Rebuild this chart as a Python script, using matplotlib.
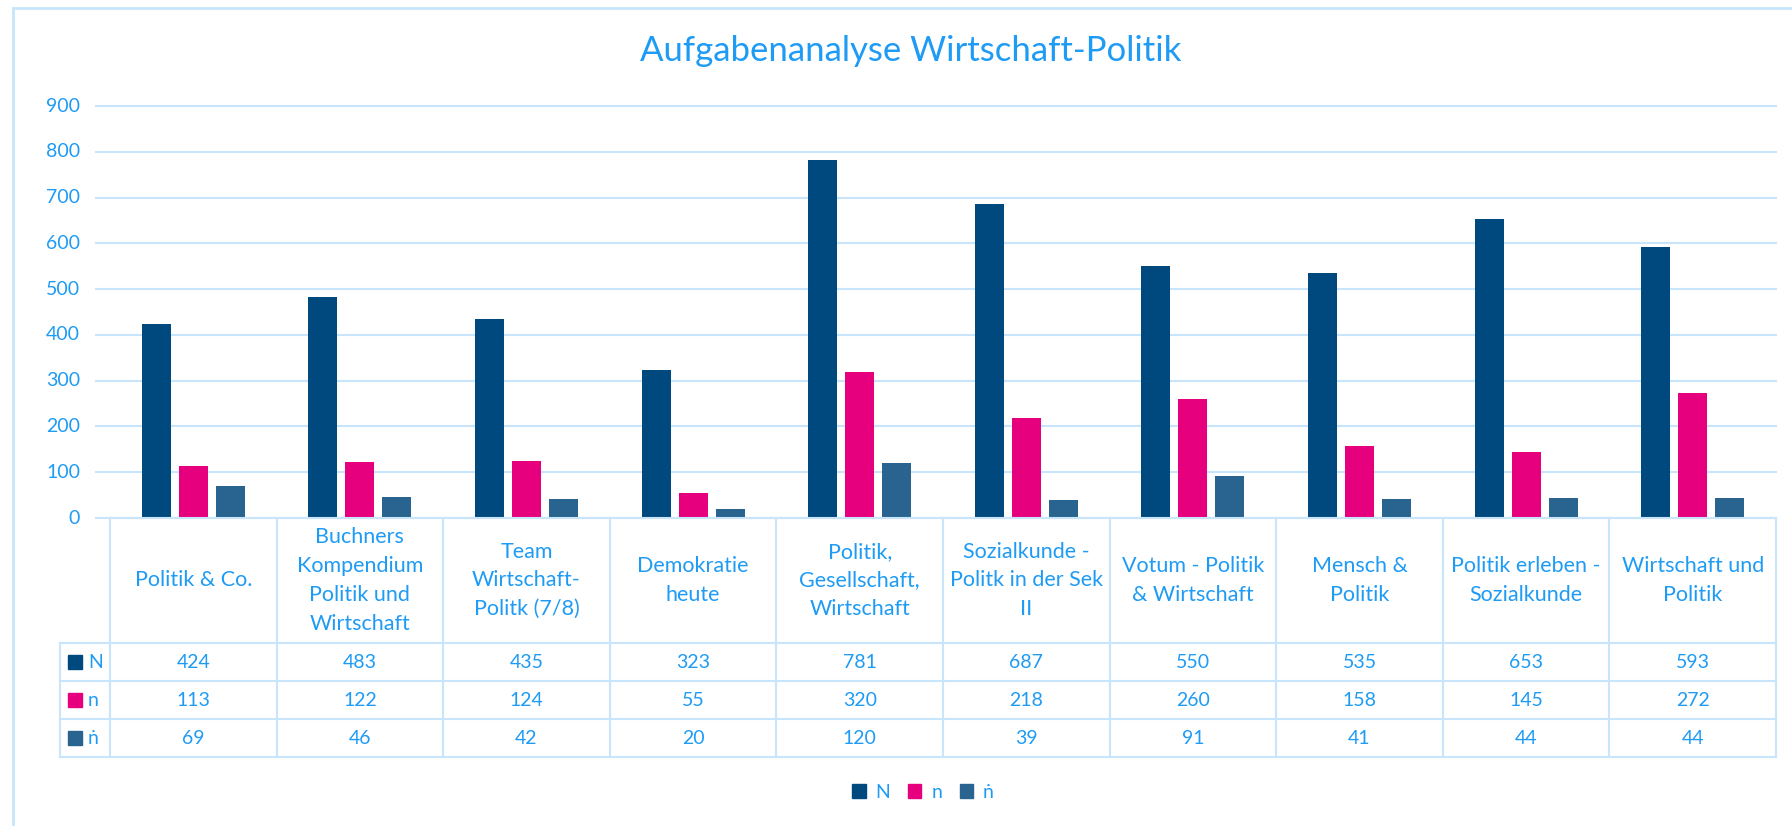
import numpy as np
import matplotlib
matplotlib.use("Agg")
from matplotlib import pyplot as plt
from matplotlib.patches import Rectangle
from matplotlib.lines import Line2D

plt.rcParams['font.family'] = ['Lato', 'DejaVu Sans']

categories = ["Politik & Co.", "Buchners\nKompendium\nPolitik und\nWirtschaft",
              "Team\nWirtschaft-\nPolitk (7/8)", "Demokratie\nheute",
              "Politik,\nGesellschaft,\nWirtschaft", "Sozialkunde -\nPolitk in der Sek\nII",
              "Votum - Politik\n& Wirtschaft", "Mensch &\nPolitik",
              "Politik erleben -\nSozialkunde", "Wirtschaft und\nPolitik"]
series_names = ["N", "n", "\u1e45"]
N_vals = [424, 483, 435, 323, 781, 687, 550, 535, 653, 593]
n_vals = [113, 122, 124, 55, 320, 218, 260, 158, 145, 272]
ndot_vals = [69, 46, 42, 20, 120, 39, 91, 41, 44, 44]
yticks = [0, 100, 200, 300, 400, 500, 600, 700, 800, 900]

colors = ["#00497e", "#e6007e", "#28648f"]
txt = "#1e9bf5"
grid = "#c8e5fb"

W, H = 1792, 826
fig = plt.figure(figsize=(W/100, H/100), dpi=100)

def fx(px): return px/W
def fy(py): return 1 - py/H

# plot area in pixels
left, right, top, bottom = 110, 1776, 106, 518
ax = fig.add_axes([fx(left), fy(bottom), fx(right-left), fy(top)-fy(bottom)])
ax.set_xlim(-0.5, 9.5)
ax.set_ylim(0, 900)

x = np.arange(len(categories))
bw = 0.174
off = 0.222
for k, vals in enumerate([N_vals, n_vals, ndot_vals]):
    ax.bar(x + (k-1)*off, vals, bw, color=colors[k], zorder=3)

for yv in yticks:
    ax.axhline(yv, xmin=-(left-96)/(right-left), xmax=1, color=grid, lw=1.5,
               clip_on=False, zorder=1)
    ax.text(-(left-80)/(right-left), yv, str(yv), transform=ax.get_yaxis_transform(),
            ha='right', va='center', color=txt, fontsize=14)
for s in ax.spines.values():
    s.set_visible(False)
ax.set_xticks([])
ax.set_yticks([])

# data table
col_w = (right-left)/10
rows = [518, 643, 681, 719, 757]
fig.add_artist(Line2D([fx(left), fx(right)], [fy(rows[0])]*2, color=grid, lw=1.5))
for r in rows[1:]:
    fig.add_artist(Line2D([fx(60), fx(right)], [fy(r)]*2, color=grid, lw=1.5))
fig.add_artist(Line2D([fx(60)]*2, [fy(rows[1]), fy(rows[-1])], color=grid, lw=1.5))
for k in range(11):
    xp = left + k*col_w
    fig.add_artist(Line2D([fx(xp)]*2, [fy(rows[0]), fy(rows[-1])], color=grid, lw=1.5))

for i, cat in enumerate(categories):
    cx = left + (i+0.5)*col_w
    fig.text(fx(cx), fy((rows[0]+rows[1])/2), cat, ha='center', va='center',
             color=txt, fontsize=15.5, linespacing=1.55)
    for j, vals in enumerate([N_vals, n_vals, ndot_vals]):
        fig.text(fx(cx), fy((rows[j+1]+rows[j+2])/2), str(vals[i]), ha='center',
                 va='center', color=txt, fontsize=14)

for j, name in enumerate(series_names):
    cy = (rows[j+1]+rows[j+2])/2
    fig.add_artist(Rectangle((fx(68), fy(cy+7)), fx(14), fy(cy-7)-fy(cy+7),
                             color=colors[j]))
    fig.text(fx(88), fy(cy), name, ha='left', va='center', color=txt, fontsize=14)

# title
fig.text(fx(911), fy(51), "Aufgabenanalyse Wirtschaft-Politik", ha='center',
         va='center', color=txt, fontsize=25)

# legend
handles = [Rectangle((0, 0), 1, 1, color=c) for c in colors]
leg = fig.legend(handles, series_names, loc='center', bbox_to_anchor=(fx(923), fy(792)),
                 ncol=3, frameon=False, fontsize=14, handlelength=0.7, handleheight=0.7,
                 columnspacing=0.9, handletextpad=0.5)
for t in leg.get_texts():
    t.set_color(txt)

# chart border
fig.add_artist(Line2D([fx(13)]*2, [fy(8), 0], color=grid, lw=2))
fig.add_artist(Line2D([fx(13), 1], [fy(8)]*2, color=grid, lw=2))

fig.savefig("out.png", dpi=100, facecolor='white')
